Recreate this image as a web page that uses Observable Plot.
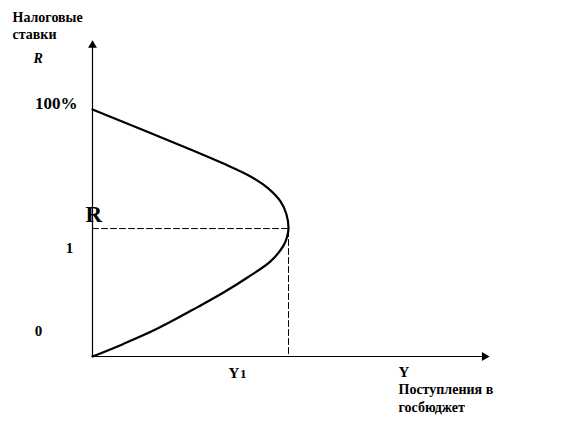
<!DOCTYPE html>
<html>
<head>
<meta charset="utf-8">
<script src="https://cdn.jsdelivr.net/npm/d3@7"></script>
<script src="https://cdn.jsdelivr.net/npm/@observablehq/plot@0.6"></script>
<style>
  html, body { margin: 0; padding: 0; background: #fff; }
  svg { display: block; }
</style>
</head>
<body>
<div id="chart"></div>
<script>
// Laffer curve: revenue (Y) vs tax rate (R) (x: 0..100 = axis length, y: 0..100 = 100%)
const revenue = [0, 13.25, 24.5, 32.75, 39.5, 44, 47, 48.5, 49, 48.6, 47.75, 44.5, 38.75, 32.75, 26.5, 16.25, 7.75, 0];
const rate    = [100, 91.3, 83.8, 78.1, 72.9, 68.0, 62.8, 57.5, 51.8, 48.2, 44.9, 38.5, 32.0, 25.9, 20.2, 11.3, 5.1, 0];

// optimum point (R1, Y1)
const optimumRevenue = 49;
const optimumRate = 51.8;

// axis extents (arrow tips)
const yAxisTop = 126;
const xAxisEnd = 98;

// texts
const yTitle = ["Налоговые", "ставки"];
const yVar = "R";
const rateTickLabels = ["100%", "1", "0"];
const optLabel = "R";
const revTickLabel = ["Y", "1"];
const xVar = "Y";
const xTitle = ["Поступления в", "госбюджет"];

const curve = revenue.map((v, i) => ({x: v, y: rate[i]}));

const labels = [
  {text: yTitle[0], x: -20, y: 135.6, size: 14, style: "normal", anchor: "start"},
  {text: yTitle[1], x: -20, y: 128.7, size: 14, style: "normal", anchor: "start"},
  {text: yVar, x: -14.75, y: 119.0, size: 14, style: "italic", anchor: "start"},
  {text: rateTickLabels[0], x: -3.75, y: 100.4, size: 17, style: "normal", anchor: "end"},
  {text: optLabel, x: -1.75, y: 54.3, size: 23, style: "normal", anchor: "start"},
  {text: rateTickLabels[1], x: -5.75, y: 42.1, size: 15, style: "normal", anchor: "middle"},
  {text: rateTickLabels[2], x: -13.5, y: 8.1, size: 15, style: "normal", anchor: "middle"},
  {text: revTickLabel[0], x: 34, y: -8.9, size: 15, style: "normal", anchor: "start"},
  {text: revTickLabel[1], x: 36.9, y: -8.9, size: 13, style: "normal", anchor: "start"},
  {text: xVar, x: 76.5, y: -8.5, size: 15, style: "normal", anchor: "start"},
  {text: xTitle[0], x: 76.5, y: -15.0, size: 14, style: "normal", anchor: "start"},
  {text: xTitle[1], x: 76.5, y: -22.3, size: 14, style: "normal", anchor: "start"}
];

const textMarks = labels.map(l => Plot.text([l], {
  x: "x", y: "y", text: "text",
  textAnchor: l.anchor, lineAnchor: "bottom",
  fontSize: l.size, fontWeight: "bold", fontStyle: l.style,
  fill: "black"
}));

const chart = Plot.plot({
  width: 580,
  height: 437,
  margin: 0,
  x: {domain: [0, 100], range: [92, 492], axis: null},
  y: {domain: [0, 100], range: [356, 109], axis: null},
  style: {fontFamily: "'Liberation Serif', 'Times New Roman', serif", background: "#fff"},
  marks: [
    // axes
    Plot.ruleX([0], {y1: 0, y2: yAxisTop, stroke: "black", strokeWidth: 1.2}),
    Plot.ruleY([0], {x1: 0, x2: xAxisEnd, stroke: "black", strokeWidth: 1.2}),
    Plot.dot([{x: 0, y: yAxisTop}], {x: "x", y: "y", symbol: "triangle", r: 3.3, fill: "black", stroke: "none"}),
    Plot.dot([{x: xAxisEnd, y: 0}], {x: "x", y: "y", symbol: "triangle", rotate: 90, r: 3.3, fill: "black", stroke: "none"}),
    // dashed guides
    Plot.line([{x: 0, y: optimumRate}, {x: optimumRevenue, y: optimumRate}, {x: optimumRevenue, y: 0}],
      {x: "x", y: "y", stroke: "black", strokeWidth: 1, strokeDasharray: "6,3"}),
    // Laffer curve
    Plot.line(curve, {x: "x", y: "y", curve: "catmull-rom", stroke: "black", strokeWidth: 2.2}),
    ...textMarks
  ]
});
document.getElementById("chart").append(chart);
</script>
</body>
</html>
